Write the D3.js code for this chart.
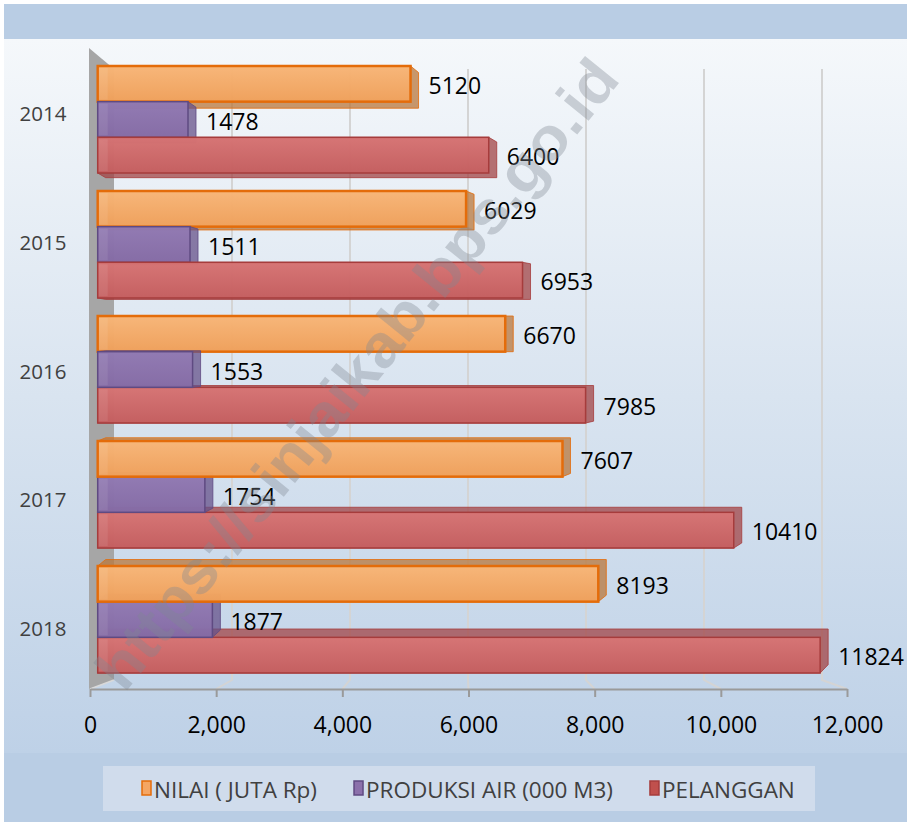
<!DOCTYPE html>
<html>
<head>
<meta charset="utf-8">
<title>Air Minum 2014-2018</title>
<style>
  body { margin: 0; background: #fff; }
  svg { display: block; font-family: "Open Sans", "DejaVu Sans", sans-serif; }
</style>
</head>
<body>
<svg width="909" height="824"></svg>
<script src="https://d3js.org/d3.v7.min.js"></script>
<script>
// data
const years = ['2014', '2015', '2016', '2017', '2018'];
const seriesNames = ['NILAI ( JUTA Rp)', 'PRODUKSI AIR (000 M3)', 'PELANGGAN'];
const nilai = [5120, 6029, 6670, 7607, 8193];
const produksi = [1478, 1511, 1553, 1754, 1877];
const pelanggan = [6400, 6953, 7985, 10410, 11824];
const xTicks = [0, 2000, 4000, 6000, 8000, 10000, 12000];

const seriesValues = [nilai, produksi, pelanggan];
const colors = [
  {top: '#fbb97b', bot: '#f2a25c', stroke: '#e46c0a', side: '#b8773c', leg: '#f5a664'},
  {top: '#937bb4', bot: '#866ca6', stroke: '#5f4a82', side: '#66528a', leg: '#8b70ab'},
  {top: '#d97676', bot: '#c65f60', stroke: '#a63c3c', side: '#a24445', leg: '#c0504d'}
];

const svg = d3.select('svg');
const defs = svg.append('defs');

// background panels
const bg = defs.append('linearGradient').attr('id', 'bg')
  .attr('x1', 0).attr('y1', 0).attr('x2', 0).attr('y2', 1);
bg.append('stop').attr('offset', 0).attr('stop-color', '#f5f8fb');
bg.append('stop').attr('offset', 0.5).attr('stop-color', '#d9e4f0');
bg.append('stop').attr('offset', 1).attr('stop-color', '#bed1e7');

colors.forEach((c, i) => {
  const g = defs.append('linearGradient').attr('id', 'bar' + i)
    .attr('x1', 0).attr('y1', 0).attr('x2', 0).attr('y2', 1);
  g.append('stop').attr('offset', 0).attr('stop-color', c.top);
  g.append('stop').attr('offset', 1).attr('stop-color', c.bot);
});

svg.append('rect').attr('x', 4).attr('y', 4).attr('width', 903).attr('height', 818)
  .attr('fill', '#b9cde4');
svg.append('rect').attr('x', 4).attr('y', 39).attr('width', 903).attr('height', 714)
  .attr('fill', 'url(#bg)');

// scales: back wall, front axis and bar faces have their own perspective
const xBack = d3.scaleLinear().domain([0, 12000]).range([114, 822]);
const xFront = d3.scaleLinear().domain([0, 12000]).range([90, 847]);
const xBar = d3.scaleLinear().domain([0, 12000]).range([97.7, 830.9]);
const y = d3.scaleBand().domain(years).range([57, 682])
  .paddingInner(0.144).paddingOuter(0.072);
const ySub = d3.scaleBand().domain(seriesNames).range([0, y.bandwidth()]);
const yLabel = d3.scalePoint().domain(years).range([113, 628]);

const backTop = 69, backBottom = 680, frontY = 689;

// left wall
svg.append('path')
  .attr('d', `M89,48 L114,${backTop} L114,${backBottom} L89,${frontY} Z`)
  .attr('fill', '#a6a6a6');

// gridlines: back plane then floor slant to the front axis
const grid = svg.append('g');
grid.selectAll('path').data(xTicks.slice(1)).join('path')
  .attr('d', d => `M${xBack(d)},${backTop} L${xBack(d)},${backBottom} L${xFront(d)},${frontY}`)
  .attr('fill', 'none').attr('stroke', '#d4d4d4').attr('stroke-width', 2);
svg.append('path')
  .attr('d', `M114,${backBottom} L${xFront(0)},${frontY}`)
  .attr('stroke', '#d9d9d9').attr('stroke-width', 1.5);

// x axis
const axis = svg.append('g').attr('transform', `translate(0,${frontY})`)
  .call(d3.axisBottom(xFront).tickValues(xTicks).tickFormat(d3.format(','))
    .tickSize(8).tickSizeOuter(0));
axis.select('.domain').attr('stroke', '#9a9a9a').attr('stroke-width', 2);
axis.selectAll('.tick line').attr('stroke', '#9a9a9a').attr('stroke-width', 2);
axis.selectAll('.tick text').attr('y', 44).attr('dy', 0)
  .attr('font-size', 23).attr('font-family', '"Open Sans", sans-serif').attr('fill', '#000');

// bars
const vpY = 335;
const bars = [];
years.forEach((yr, i) => {
  seriesNames.forEach((s, j) => {
    const y0 = y(yr) + ySub(s);
    bars.push({year: yr, s: j, v: seriesValues[j][i], y0: y0, h: ySub.bandwidth(),
      dy: (vpY - (y0 + ySub.bandwidth() / 2)) * 0.026});
  });
});
bars.sort((a, b) => Math.abs(b.y0 - vpY) - Math.abs(a.y0 - vpY));

const dx = 8;
const barG = svg.append('g');
bars.forEach(b => {
  const x0 = xBar(0), x1 = xBar(b.v), y0 = b.y0, y1 = b.y0 + b.h;
  const pts = [[x0, y0], [x1, y0], [x1, y1], [x0, y1],
    [x0 + dx, y0 + b.dy], [x1 + dx, y0 + b.dy], [x1 + dx, y1 + b.dy], [x0 + dx, y1 + b.dy]];
  const c = colors[b.s];
  barG.append('path')
    .attr('d', 'M' + d3.polygonHull(pts).join('L') + 'Z')
    .attr('fill', c.side).attr('fill-opacity', 0.75)
    .attr('stroke', c.stroke).attr('stroke-width', 1).attr('stroke-opacity', 0.8);
  barG.append('rect')
    .attr('x', x0).attr('y', y0).attr('width', x1 - x0).attr('height', b.h)
    .attr('fill', `url(#bar${b.s})`).attr('fill-opacity', 0.93)
    .attr('stroke', c.stroke).attr('stroke-width', b.s === 0 ? 2.5 : 1.5);
  barG.append('rect')
    .attr('x', x0 + 1).attr('y', y0 + 2).attr('width', 9).attr('height', b.h - 4)
    .attr('fill', '#fff').attr('fill-opacity', 0.08);
});

// value labels
svg.append('g').selectAll('text').data(bars).join('text')
  .attr('x', d => xBar(d.v) + 18)
  .attr('y', d => d.y0 + d.h / 2 + 1)
  .attr('dominant-baseline', 'central')
  .attr('font-size', 23).attr('fill', '#000')
  .text(d => d.v);

// category labels
svg.append('g').selectAll('text').data(years).join('text')
  .attr('x', 43).attr('y', d => yLabel(d))
  .attr('text-anchor', 'middle').attr('dominant-baseline', 'central')
  .attr('font-size', 20.5).attr('fill', '#404040')
  .text(d => d);

// watermark
svg.append('text')
  .attr('transform', 'translate(357,374) rotate(-51)')
  .attr('text-anchor', 'middle').attr('dominant-baseline', 'central')
  .attr('font-family', '"Liberation Sans", Arial, sans-serif').attr('font-weight', 'bold')
  .attr('font-size', 60).attr('fill', '#808892').attr('fill-opacity', 0.36)
  .attr('textLength', 790).attr('lengthAdjust', 'spacingAndGlyphs')
  .text('https://sinjaikab.bps.go.id');

// legend
svg.append('rect').attr('x', 103).attr('y', 766).attr('width', 712).attr('height', 45)
  .attr('fill', '#d0dcec');
let lx = 142;
seriesNames.forEach((s, i) => {
  svg.append('rect').attr('x', lx).attr('y', 781).attr('width', 9).attr('height', 14)
    .attr('fill', colors[i].leg).attr('stroke', colors[i].stroke).attr('stroke-width', 1.5);
  const t = svg.append('text').attr('x', lx + 12).attr('y', 789)
    .attr('dominant-baseline', 'central').attr('font-size', 22.5).attr('fill', '#404040')
    .text(s);
  lx += 12 + t.node().getComputedTextLength() + 37;
});
</script>
</body>
</html>
